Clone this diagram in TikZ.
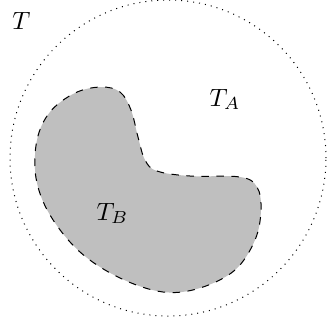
\documentclass[tikz,border=0pt]{standalone}
\begin{document}
\begin{tikzpicture}[x=0.4pt,y=-0.4pt,
  lbl/.style={anchor=base west,inner sep=0pt},
  region/.style={draw=black,dashed,fill=lightgray,line width=0.4pt},
  universe/.style={draw=black,dotted,line width=0.4pt}]
\useasboundingbox (0,0) rectangle (327,321);
\draw[universe] (168,158) circle[radius=63.2pt];
\draw[region] plot[smooth cycle,tension=0.6] coordinates {
  (101,87) (120,92) (131,110) (138,137) (145,160) (157,171) (190,176) (240,177)
  (257,187) (261,210) (255,240) (235,270) (200,288) (163,292) (120,278)
  (80,252) (50,215) (36,178) (37,140) (50,112) (75,93)};
\node[lbl] (t) at (12,29) {$T$};
\node[lbl] (ta) at (209,106) {$T_A$};
\node[lbl] (tb) at (96,220) {$T_B$};
\end{tikzpicture}
\end{document}
